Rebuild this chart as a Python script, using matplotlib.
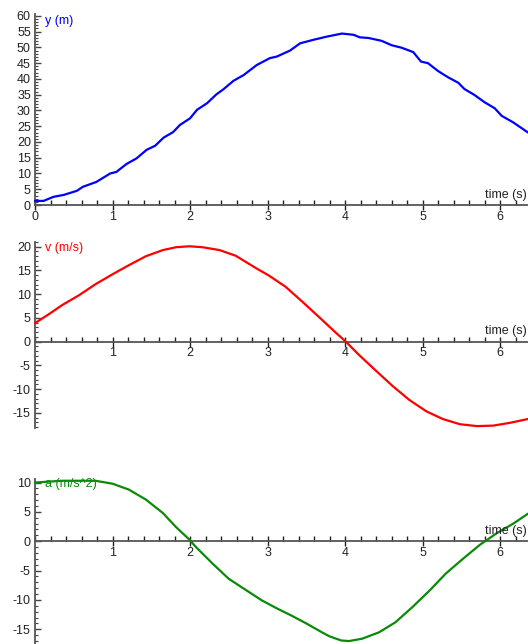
import matplotlib
matplotlib.use("Agg")
import matplotlib.pyplot as plt
from matplotlib.ticker import MultipleLocator, FixedLocator

plt.rcParams['font.family'] = ['Liberation Sans', 'DejaVu Sans']
plt.rcParams['axes.unicode_minus'] = False

# ---- data ----
t_pos = [0.0, 0.11, 0.24, 0.37, 0.54, 0.62, 0.79, 0.97, 1.05, 1.18, 1.31, 1.44, 1.55,
         1.66, 1.78, 1.87, 2.0, 2.09, 2.22, 2.34, 2.43, 2.56, 2.69, 2.86, 3.03, 3.12,
         3.29, 3.42, 3.59, 3.76, 3.96, 4.11, 4.19, 4.30, 4.47, 4.60, 4.73, 4.88, 4.98,
         5.07, 5.20, 5.33, 5.46, 5.54, 5.67, 5.80, 5.93, 6.02, 6.17, 6.36]
y_pos = [1.3, 1.3, 2.6, 3.2, 4.5, 5.8, 7.3, 10.0, 10.5, 13.0, 14.8, 17.5, 18.8,
         21.4, 23.1, 25.4, 27.5, 30.2, 32.3, 35.1, 36.7, 39.4, 41.2, 44.4, 46.6, 47.1,
         49.0, 51.3, 52.4, 53.4, 54.4, 54.0, 53.2, 53.0, 52.1, 50.7, 49.9, 48.5, 45.5,
         45.0, 42.5, 40.5, 38.8, 36.8, 34.9, 32.6, 30.7, 28.3, 26.2, 23.0]

t_vel = [0.0, 0.18, 0.35, 0.57, 0.78, 1.0, 1.21, 1.43, 1.65, 1.82, 1.99, 2.16, 2.38,
         2.59, 2.85, 3.02, 3.23, 3.45, 3.67, 3.88, 4.01, 4.18, 4.39, 4.61, 4.83, 5.05,
         5.26, 5.48, 5.70, 5.91, 6.13, 6.36]
v_vel = [3.9, 5.8, 7.7, 9.8, 12.1, 14.2, 16.1, 18.0, 19.3, 19.9, 20.1, 19.9, 19.3,
         18.1, 15.5, 13.9, 11.6, 8.4, 5.1, 1.9, 0.0, -2.8, -6.0, -9.3, -12.3, -14.7,
         -16.3, -17.4, -17.8, -17.7, -17.1, -16.3]

t_acc = [0.0, 0.35, 0.78, 1.0, 1.21, 1.43, 1.65, 1.82, 1.99, 2.07, 2.29, 2.5, 2.72,
         2.93, 3.13, 3.3, 3.5, 3.7, 3.80, 3.95, 4.05, 4.22, 4.44, 4.65, 4.87, 5.09,
         5.30, 5.52, 5.74, 5.96, 6.17, 6.36]
a_acc = [10.0, 10.3, 10.3, 9.8, 8.8, 7.1, 4.8, 2.4, 0.3, -0.9, -3.8, -6.4, -8.3,
         -10.1, -11.5, -12.6, -14.0, -15.5, -16.2, -16.9, -17.0, -16.6, -15.5, -13.8,
         -11.2, -8.4, -5.5, -3.0, -0.6, 1.4, 3.0, 4.7]

panels = [
    dict(t=t_pos, v=y_pos, color='#0000ff', label='y (m)', ylim=(0, 60.6),
         yticks=[0, 5, 10, 15, 20, 25, 30, 35, 40, 45, 50, 55, 60],
         xlabels=['0', '1', '2', '3', '4', '5', '6'], xticks=[0, 1, 2, 3, 4, 5, 6],
         rect=[35/528, 1-205/644, 493/528, 191/644], lab_y=0.963),
    dict(t=t_vel, v=v_vel, color='#ff0000', label='v (m/s)', ylim=(-18.2, 21),
         yticks=[-15, -10, -5, 0, 5, 10, 15, 20],
         xlabels=['1', '2', '3', '4', '5', '6'], xticks=[1, 2, 3, 4, 5, 6],
         rect=[35/528, 1-428/644, 493/528, 186/644], lab_y=0.968),
    dict(t=t_acc, v=a_acc, color='#0a8a0a', label='a (m/s^2)', ylim=(-17.5, 10.6),
         yticks=[-15, -10, -5, 0, 5, 10],
         xlabels=['1', '2', '3', '4', '5', '6'], xticks=[1, 2, 3, 4, 5, 6],
         rect=[35/528, 0.0, 493/528, 165/644], lab_y=0.97),
]

fig = plt.figure(figsize=(5.28, 6.44), dpi=100)
axc = '#555555'
fs = 9
for p in panels:
    ax = fig.add_axes(p['rect'])
    ax.set_facecolor('none')
    ax.plot(p['t'], p['v'], color=p['color'], lw=1.6, solid_capstyle='round',
            solid_joinstyle='round', clip_on=False, zorder=3)
    ax.set_xlim(0, 6.36)
    ax.set_ylim(*p['ylim'])
    for s in ['top', 'right']:
        ax.spines[s].set_visible(False)
    ax.spines['left'].set_position(('data', 0))
    ax.spines['bottom'].set_position(('data', 0))
    for s in ['left', 'bottom']:
        ax.spines[s].set_color(axc)
        ax.spines[s].set_linewidth(1.3)
    ax.xaxis.set_major_locator(FixedLocator(p['xticks']))
    ax.set_xticklabels(p['xlabels'])
    ax.xaxis.set_minor_locator(MultipleLocator(0.2))
    ax.yaxis.set_major_locator(FixedLocator(p['yticks']))
    ax.set_yticklabels([str(v) for v in p['yticks']])
    ax.yaxis.set_minor_locator(MultipleLocator(1))
    ax.tick_params(axis='x', which='major', direction='inout', length=7, width=1,
                   color='#222222', labelsize=fs, pad=0.5, labelcolor='#222222')
    ax.tick_params(axis='x', which='minor', direction='in', length=3.5, width=1,
                   color='#222222')
    ax.tick_params(axis='y', which='major', direction='in', length=4, width=1,
                   color='#444444', labelsize=fs, pad=3, labelcolor='#222222')
    ax.tick_params(axis='y', which='minor', direction='in', length=2.5, width=0.8,
                   color='#444444')
    ax.text(0.02, p['lab_y'], p['label'], transform=ax.transAxes, color=p['color'],
            fontsize=fs, ha='left', va='center')
    ax.annotate('time (s)', xy=(1, 0), xycoords=('axes fraction', 'data'),
                xytext=(-1, 3), textcoords='offset points', ha='right', va='bottom',
                fontsize=fs, color='#222222')

fig.savefig('out.png', dpi=100)
